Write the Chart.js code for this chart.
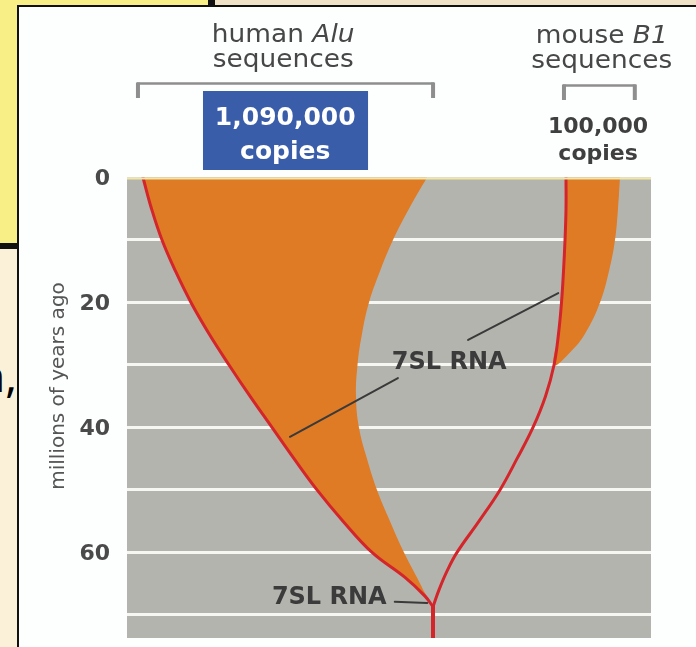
<!DOCTYPE html>
<html><head><meta charset="utf-8">
<script src="https://cdn.jsdelivr.net/npm/chart.js@4.4.1/dist/chart.umd.min.js"></script>
<style>
html,body{margin:0;padding:0;width:696px;height:647px;overflow:hidden;background:#fbf0d8;}
.abs{position:absolute;}
</style></head><body>
<div class="abs" style="left:0;top:0;width:208px;height:243px;background:#f8ef86"></div>
<div class="abs" style="left:215px;top:0;width:481px;height:5px;background:#efe2c6"></div>
<div class="abs" style="left:208px;top:0;width:7px;height:7px;background:#111"></div>
<div class="abs" style="left:0;top:243px;width:18px;height:6px;background:#111"></div>
<div class="abs" style="left:17px;top:5px;width:679px;height:642px;background:#111"></div>
<div class="abs" style="left:19px;top:7px;width:677px;height:640px;background:#fdfefe"></div>
<div class="abs" style="left:-40px;top:353px;width:57px;text-align:right;font:44px 'Noto Sans';line-height:44px;color:#000">n,</div>
<div class="abs" style="left:0;top:0;width:696px;height:647px"><canvas id="c"></canvas></div>
<script>
// ---- data (x: relative horizontal position 0-100, y: millions of years ago) ----
const myrTickLabels = [0, 20, 40, 60];
const aluLeftMyr  = [0, 5, 10, 15, 20, 25, 30, 35, 40, 45, 50, 55, 60, 64, 67, 68.7];
const aluLeftPos  = [3.05, 4.68, 6.68, 9.26, 12.21, 15.65, 19.47, 23.47, 27.67, 31.87, 36.26, 41.22, 46.76, 53.05, 56.87, 58.4];
const aluRightMyr = [0, 5, 10, 15, 20, 25, 30, 35, 40, 45, 50, 55, 60, 64, 66.5, 68.7];
const aluRightPos = [57.25, 53.82, 50.76, 48.28, 46.18, 44.85, 43.99, 43.70, 44.27, 45.80, 47.71, 50.19, 52.86, 55.34, 56.87, 58.4];
const b1LineMyr   = [0, 5, 10, 15, 20, 25, 30, 35, 40, 45, 50, 55, 60, 63, 66, 68.7];
const b1LinePos   = [83.78, 83.78, 83.59, 83.30, 82.92, 82.35, 81.49, 79.87, 77.48, 74.43, 71.18, 67.18, 62.98, 61.07, 59.54, 58.4];
const b1RightMyr  = [0, 5, 10, 15, 20, 25, 28, 30];
const b1RightPos  = [94.08, 93.70, 93.13, 91.98, 90.27, 87.40, 84.54, 81.49];
const trunkMyr    = [68.7, 73.7];
const trunkPos    = [58.4, 58.4];
const ptrAMyr = [41.5, 32.1], ptrAPos = [31.1, 51.7];
const ptrBMyr = [26.0, 18.5], ptrBPos = [65.1, 82.3];
const ptrCMyr = [67.9, 68.1], ptrCPos = [51.1, 57.3];
const rnaLabel = '7SL RNA';
const rnaLabelMyr = [29.7, 67.3];
const rnaLabelPos = [61.5, 38.6];
const axisTitle = 'millions of years ago';
const humanHead = ['human ', 'Alu', 'sequences'];
const mouseHead = ['mouse ', 'B1', 'sequences'];
const humanCopies = ['1,090,000', 'copies'];
const mouseCopies = ['100,000', 'copies'];

const pts = (pos, myr) => pos.map((p, i) => ({x: p, y: myr[i]}));
const aluPoly = pts(aluLeftPos, aluLeftMyr).concat(pts(aluRightPos, aluRightMyr).reverse().slice(1));
const b1Poly = pts(b1LinePos.slice(0, 7), b1LineMyr.slice(0, 7)).concat(pts(b1RightPos, b1RightMyr).reverse().slice(1));

const ORANGE = '#df7a25', RED = '#d3252a', PTR = '#3a3a3a';

const deco = {
  id: 'deco',
  beforeDraw(chart) {
    const {ctx, chartArea: a} = chart;
    ctx.save();
    ctx.fillStyle = '#b4b4af';
    ctx.fillRect(a.left, a.top, a.right - a.left, a.bottom - a.top);
    ctx.restore();
  },
  afterDatasetsDraw(chart) {
    const {ctx, chartArea: a, scales: {x, y}} = chart;
    ctx.save();
    const y0 = y.getPixelForValue(0);
    ctx.strokeStyle = '#f0e6a8'; ctx.lineWidth = 2;
    ctx.beginPath(); ctx.moveTo(a.left, y0 + 1); ctx.lineTo(a.right, y0 + 1); ctx.stroke();
    ctx.font = 'bold 24px "DejaVu Sans"';
    ctx.fillStyle = '#3b3b3b'; ctx.textAlign = 'center'; ctx.textBaseline = 'middle';
    rnaLabelMyr.forEach((m, i) => ctx.fillText(rnaLabel, x.getPixelForValue(rnaLabelPos[i]), y.getPixelForValue(m)));
    ctx.restore();
  },
  afterDraw(chart) {
    const {ctx, chartArea: a, scales: {x, y}} = chart;
    const X = v => x.getPixelForValue(v);
    ctx.save();
    // axis title
    ctx.save();
    ctx.translate(59, 386);
    ctx.rotate(-Math.PI / 2);
    ctx.font = '20px "DejaVu Sans"'; ctx.fillStyle = '#555'; ctx.textAlign = 'center'; ctx.textBaseline = 'middle';
    ctx.fillText(axisTitle, 0, 0);
    ctx.restore();
    // brackets
    function bracket(x1, x2, yt, yb) {
      ctx.strokeStyle = '#8e8e8e'; ctx.lineWidth = 2.5;
      ctx.beginPath(); ctx.moveTo(x1, yt); ctx.lineTo(x2, yt); ctx.stroke();
      ctx.fillStyle = '#8e8e8e';
      ctx.fillRect(x1 - 1, yt - 1, 4, yb - yt + 1);
      ctx.fillRect(x2 - 3, yt - 1, 4, yb - yt + 1);
    }
    bracket(X(1.9), X(58.6), 83.5, 98);
    bracket(X(83.2), X(97.1), 85.5, 100);
    // header lines
    function header(parts, cx, base1, base2) {
      const sx = 1.1;
      ctx.fillStyle = '#474747'; ctx.textBaseline = 'alphabetic'; ctx.textAlign = 'left';
      ctx.font = '24px "DejaVu Sans"';
      const w1 = ctx.measureText(parts[0]).width;
      ctx.font = 'italic 24px "DejaVu Sans"';
      const w2 = ctx.measureText(parts[1]).width;
      const start = cx - (w1 + w2) * sx / 2;
      ctx.save(); ctx.translate(start, base1); ctx.scale(sx, 1);
      ctx.font = '24px "DejaVu Sans"'; ctx.fillText(parts[0], 0, 0);
      ctx.font = 'italic 24px "DejaVu Sans"'; ctx.fillText(parts[1], w1, 0);
      ctx.restore();
      ctx.save(); ctx.translate(cx, base2); ctx.scale(sx, 1);
      ctx.font = '24px "DejaVu Sans"'; ctx.textAlign = 'center'; ctx.fillText(parts[2], 0, 0);
      ctx.restore();
    }
    header(humanHead, X(29.8), 42, 67);
    header(mouseHead, X(90.6), 43, 68);
    // blue box
    ctx.fillStyle = '#3a5daa';
    ctx.fillRect(X(14.5), 91, X(46.0) - X(14.5), 79);
    ctx.fillStyle = '#ffffff'; ctx.textAlign = 'center'; ctx.textBaseline = 'alphabetic';
    ctx.font = 'bold 25px "DejaVu Sans"';
    ctx.fillText(humanCopies[0], X(30.2), 125);
    ctx.fillText(humanCopies[1], X(30.2), 159);
    ctx.fillStyle = '#3f3f3f';
    ctx.font = 'bold 22px "DejaVu Sans"';
    ctx.fillText(mouseCopies[0], X(89.9), 133);
    ctx.fillText(mouseCopies[1], X(89.9), 160);
    ctx.restore();
  }
};

const lineDs = (data, color, width, order, tension) => ({
  data, showLine: true, borderColor: color, borderWidth: width, pointRadius: 0,
  fill: false, tension, order, borderCapStyle: 'round'
});

new Chart(document.getElementById('c'), {
  type: 'scatter',
  data: {
    datasets: [
      {data: aluPoly, showLine: true, fill: 'shape', backgroundColor: ORANGE, borderColor: 'rgba(0,0,0,0)', borderWidth: 0, pointRadius: 0, tension: 0.4, order: 10},
      {data: b1Poly, showLine: true, fill: 'shape', backgroundColor: ORANGE, borderColor: 'rgba(0,0,0,0)', borderWidth: 0, pointRadius: 0, tension: 0.4, order: 10},
      lineDs(pts(aluLeftPos, aluLeftMyr), RED, 3, 5, 0.4),
      lineDs(pts(b1LinePos, b1LineMyr), RED, 3, 5, 0.4),
      lineDs(pts(trunkPos, trunkMyr), RED, 4, 5, 0),
      lineDs(pts(ptrAPos, ptrAMyr), PTR, 2, 1, 0),
      lineDs(pts(ptrBPos, ptrBMyr), PTR, 2, 1, 0),
      lineDs(pts(ptrCPos, ptrCMyr), PTR, 2, 1, 0)
    ]
  },
  options: {
    responsive: true, maintainAspectRatio: false, animation: false, devicePixelRatio: 1,
    events: [],
    layout: {autoPadding: false, padding: {left: 40, right: 45, top: 177.5, bottom: 9}},
    plugins: {legend: {display: false}, tooltip: {enabled: false}},
    scales: {
      x: {type: 'linear', min: 0, max: 100, display: false},
      y: {
        type: 'linear', reverse: true, min: 0, max: 73.7,
        afterFit(s) { s.width = 87; s.paddingTop = 0; s.paddingBottom = 0; },
        border: {display: false},
        grid: {color: c => (c.tick && c.tick.value === 0) ? 'rgba(0,0,0,0)' : '#f6f6f2', lineWidth: 3, drawTicks: false},
        ticks: {stepSize: 10, includeBounds: false, autoSkip: false, padding: 17, labelOffset: 2, color: '#4a4a4a',
          font: {family: 'DejaVu Sans', size: 22, weight: 'bold'},
          callback: v => myrTickLabels.includes(v) ? String(v) : ''},
        title: {display: false}
      }
    }
  },
  plugins: [deco]
});
</script>
</body></html>
